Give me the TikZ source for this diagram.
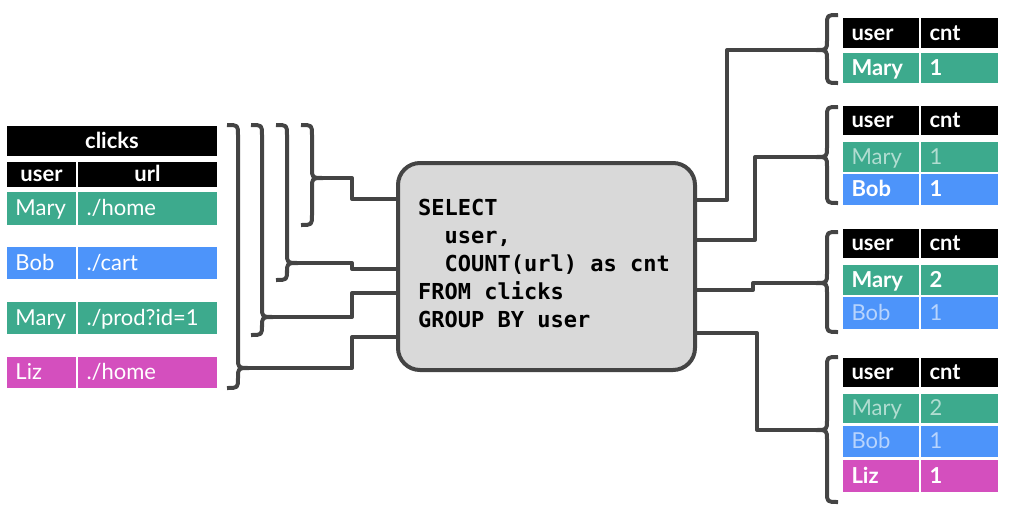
\documentclass[tikz,border=0pt]{standalone}
\usepackage{fontspec}
\setmainfont{Lato}
\newfontfamily\codefont{DejaVu Sans Mono}
\definecolor{cgreen}{RGB}{61,170,141}
\definecolor{cblue}{RGB}{77,148,250}
\definecolor{cmag}{RGB}{212,79,190}
\definecolor{cline}{RGB}{68,68,68}
\definecolor{cbox}{RGB}{217,217,217}
\tikzset{
  conn/.style={draw=cline, line width=4pt, line join=round},
  cell/.style={inner xsep=8.5pt, inner ysep=0pt, align=left, text height=16pt, text depth=2pt,
    font=\fontsize{22}{26}\selectfont, text=white},
  hdr/.style={fill=black, font=\fontsize{22}{26}\selectfont\bfseries},
  bld/.style={font=\fontsize{22}{26}\selectfont\bfseries},
  fg/.style={fill=cgreen, text=white!60!cgreen},
  fb/.style={fill=cblue, text=white!60!cblue},
  code/.style={anchor=base west, inner sep=0pt, font=\codefont\bfseries\fontsize{22}{26}\selectfont, text=black},
  qbox/.style={draw=cline, fill=cbox, line width=4pt, rounded corners=22pt}
}
\newcommand\cellnode[7]{%
  \pgfmathsetmacro\cw{#4-#2}\pgfmathsetmacro\ch{#5-#3}\pgfmathsetmacro\tw{#4-#2-17}%
  \node[cell,#6,minimum width=\cw pt,minimum height=\ch pt,text width=\tw pt] (#1) at ({(#2+#4)/2},{(#3+#5)/2}) {#7};}
% "}" brace: name, a, top, tip, bot
\newcommand\lbrc[5]{%
  \draw[conn] (#2,#3) .. controls ({#2+11},#3) .. ({#2+11},{#3+10}) -- ({#2+11},{#4-10})
    .. controls ({#2+11},#4) .. ({#2+22},#4) .. controls ({#2+11},#4) .. ({#2+11},{#4+10})
    -- ({#2+11},{#5-10}) .. controls ({#2+11},#5) .. (#2,#5);
  \coordinate (#1) at ({#2+22},#4);}
% "{" brace: name, e, top, tip, bot
\newcommand\rbrc[5]{%
  \draw[conn] (#2,#3) .. controls ({#2-11},#3) .. ({#2-11},{#3+10}) -- ({#2-11},{#4-10})
    .. controls ({#2-11},#4) .. ({#2-22},#4) .. controls ({#2-11},#4) .. ({#2-11},{#4+10})
    -- ({#2-11},{#5-10}) .. controls ({#2-11},#5) .. (#2,#5);
  \coordinate (#1) at ({#2-22},#4);}
\begin{document}
\begin{tikzpicture}[x=1pt,y=-1pt]
\useasboundingbox (0,0) rectangle (1021,515);
% left table
\cellnode{hclk}{7}{126}{217}{156}{hdr,align=center}{clicks}
\cellnode{huser}{7}{162}{76}{187}{hdr,align=center}{user}
\cellnode{hurl}{78}{162}{217}{187}{hdr,align=center}{url}
\cellnode{r1u}{7}{192}{76}{225}{fill=cgreen}{Mary}
\cellnode{r1l}{78}{192}{217}{225}{fill=cgreen}{./home}
\cellnode{r2u}{7}{247}{76}{279}{fill=cblue}{Bob}
\cellnode{r2l}{78}{247}{217}{279}{fill=cblue}{./cart}
\cellnode{r3u}{7}{302}{76}{334}{fill=cgreen}{Mary}
\cellnode{r3l}{78}{302}{217}{334}{fill=cgreen}{./prod?id=1}
\cellnode{r4u}{7}{357}{76}{388}{fill=cmag}{Liz}
\cellnode{r4l}{78}{357}{217}{388}{fill=cmag}{./home}
% query box
\node[qbox, minimum width=297pt, minimum height=207pt] (q) at (546.5,266.5) {};
\node[code] (c1) at (418,215) {SELECT};
\node[code] (c2) at (444.4,243) {user,};
\node[code] (c3) at (444.4,271) {COUNT(url) as cnt};
\node[code] (c4) at (418,299) {FROM clicks};
\node[code] (c5) at (418,327) {GROUP BY user};
% left braces and connectors
\lbrc{b1}{227}{125}{368}{388}
\lbrc{b2}{251}{125}{317}{335}
\lbrc{b3}{276}{125}{263}{280}
\lbrc{b4}{301}{125}{178}{225}
\coordinate (jx) at (352,0);
\coordinate (qi1) at (q.west |- 0,337);
\coordinate (qi2) at (q.west |- 0,293);
\coordinate (qi3) at (q.west |- 0,269);
\coordinate (qi4) at (q.west |- 0,199);
\draw[conn] (b1) -- (b1 -| jx) |- (qi1);
\draw[conn] (b2) -- (b2 -| jx) |- (qi2);
\draw[conn] (b3) -- (b3 -| jx) |- (qi3);
\draw[conn] (b4) -- (b4 -| jx) |- (qi4);
% right braces and connectors
\rbrc{rb1}{838}{15}{50}{83}
\rbrc{rb2}{838}{107}{157}{203}
\rbrc{rb3}{838}{232}{283}{332}
\rbrc{rb4}{838}{357}{430}{502}
\coordinate (qo1) at (q.east |- 0,200);
\coordinate (qo2) at (q.east |- 0,240);
\coordinate (qo3) at (q.east |- 0,290);
\coordinate (qo4) at (q.east |- 0,333);
\coordinate (rx1) at (727,0);
\coordinate (rx2) at (755,0);
\coordinate (rx3) at (753,0);
\coordinate (rx4) at (757,0);
\draw[conn] (qo1) -- (qo1 -| rx1) |- (rb1);
\draw[conn] (qo2) -- (qo2 -| rx2) |- (rb2);
\draw[conn] (qo3) -- (qo3 -| rx3) |- (rb3);
\draw[conn] (qo4) -- (qo4 -| rx4) |- (rb4);
% right tables
\cellnode{t1hu}{843}{18}{919}{48}{hdr}{user}
\cellnode{t1hc}{921}{18}{998}{48}{hdr}{cnt}
\cellnode{t1au}{843}{53}{919}{83}{fill=cgreen,bld}{Mary}
\cellnode{t1ac}{921}{53}{998}{83}{fill=cgreen,bld}{1}
\cellnode{t2hu}{843}{106}{919}{135}{hdr}{user}
\cellnode{t2hc}{921}{106}{998}{135}{hdr}{cnt}
\cellnode{t2au}{843}{142}{919}{172}{fg}{Mary}
\cellnode{t2ac}{921}{142}{998}{172}{fg}{1}
\cellnode{t2bu}{843}{174}{919}{205}{fill=cblue,bld}{Bob}
\cellnode{t2bc}{921}{174}{998}{205}{fill=cblue,bld}{1}
\cellnode{t3hu}{843}{229}{919}{258}{hdr}{user}
\cellnode{t3hc}{921}{229}{998}{258}{hdr}{cnt}
\cellnode{t3au}{843}{265}{919}{295}{fill=cgreen,bld}{Mary}
\cellnode{t3ac}{921}{265}{998}{295}{fill=cgreen,bld}{2}
\cellnode{t3bu}{843}{297}{919}{329}{fb}{Bob}
\cellnode{t3bc}{921}{297}{998}{329}{fb}{1}
\cellnode{t4hu}{843}{358}{919}{387}{hdr}{user}
\cellnode{t4hc}{921}{358}{998}{387}{hdr}{cnt}
\cellnode{t4au}{843}{394}{919}{423}{fg}{Mary}
\cellnode{t4ac}{921}{394}{998}{423}{fg}{2}
\cellnode{t4bu}{843}{426}{919}{457}{fb}{Bob}
\cellnode{t4bc}{921}{426}{998}{457}{fb}{1}
\cellnode{t4cu}{843}{460}{919}{492}{fill=cmag,bld}{Liz}
\cellnode{t4cc}{921}{460}{998}{492}{fill=cmag,bld}{1}
\end{tikzpicture}
\end{document}
